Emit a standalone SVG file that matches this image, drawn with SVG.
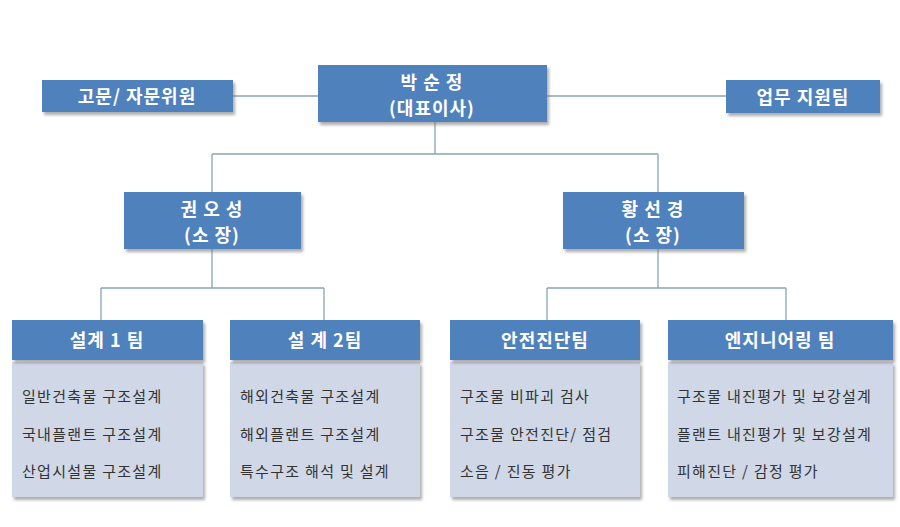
<svg xmlns="http://www.w3.org/2000/svg" width="900" height="527" viewBox="0 0 900 527">
<defs>
<filter id="sh" x="-5%" y="-5%" width="115%" height="130%"><feDropShadow dx="2" dy="3" stdDeviation="1.5" flood-color="#777" flood-opacity="0.6"/></filter>
</defs>
<style>
.b{fill:#4f81bd;filter:url(#sh)}
.bd{fill:#d0d8e8;filter:url(#sh)}
.t{font-family:"Noto Sans CJK KR",sans-serif;font-weight:bold;fill:#fff;font-size:18px;text-anchor:middle;letter-spacing:1px}
.s{font-family:"Noto Sans CJK KR",sans-serif;fill:#333;font-size:15px;letter-spacing:1.3px}
.c{stroke:#8aa2bc;stroke-width:1.3;fill:none}
</style>
<rect width="900" height="527" fill="#fff"/>
<g id="connectors">
<path class="c" d="M233 96H318M547 96H726M435 122V154M212 154H658M212 154V192M658 154V192M212 249V288M101 288H324M101 288V320M324 288V320M658 249V288M547 288H786M547 288V320M786 288V320"/>
</g>
<g id="n-ceo"><rect class="b" x="318" y="65" width="229" height="57"/><text class="t" x="432" y="89">박 순 정</text><text class="t" x="432" y="115">(대표이사)</text></g>
<g id="n-adv"><rect class="b" x="42" y="80" width="191" height="32"/><text class="t" x="137" y="103">고문/ 자문위원</text></g>
<g id="n-sup"><rect class="b" x="726" y="80" width="154" height="33"/><text class="t" x="803" y="104">업무 지원팀</text></g>
<g id="n-kwon"><rect class="b" x="124" y="192" width="177" height="57"/><text class="t" x="212" y="216">권 오 성</text><text class="t" x="212" y="242">(소 장)</text></g>
<g id="n-hwang"><rect class="b" x="563" y="192" width="181" height="57"/><text class="t" x="653" y="216">황 선 경</text><text class="t" x="653" y="242">(소 장)</text></g>
<g id="n-d1"><rect class="bd" x="12" y="362" width="191" height="135"/><rect class="b" x="12" y="320" width="191" height="40"/><text class="t" x="107" y="347">설계 1 팀</text>
<text class="s" x="22" y="402">일반건축물 구조설계</text><text class="s" x="22" y="440">국내플랜트 구조설계</text><text class="s" x="22" y="477">산업시설물 구조설계</text></g>
<g id="n-d2"><rect class="bd" x="230" y="362" width="190" height="135"/><rect class="b" x="230" y="320" width="190" height="40"/><text class="t" x="325" y="347">설 계 2팀</text>
<text class="s" x="240" y="402">해외건축물 구조설계</text><text class="s" x="240" y="440">해외플랜트 구조설계</text><text class="s" x="240" y="477">특수구조 해석 및 설계</text></g>
<g id="n-safe"><rect class="bd" x="450" y="362" width="190" height="135"/><rect class="b" x="450" y="320" width="190" height="40"/><text class="t" x="545" y="347">안전진단팀</text>
<text class="s" x="460" y="402">구조물 비파괴 검사</text><text class="s" x="460" y="440">구조물 안전진단/ 점검</text><text class="s" x="460" y="477">소음 / 진동 평가</text></g>
<g id="n-eng"><rect class="bd" x="668" y="362" width="225" height="135"/><rect class="b" x="668" y="320" width="225" height="40"/><text class="t" x="780" y="347">엔지니어링 팀</text>
<text class="s" x="677" y="402">구조물 내진평가 및 보강설계</text><text class="s" x="677" y="440">플랜트 내진평가 및 보강설계</text><text class="s" x="677" y="477">피해진단 / 감정 평가</text></g>
</svg>
